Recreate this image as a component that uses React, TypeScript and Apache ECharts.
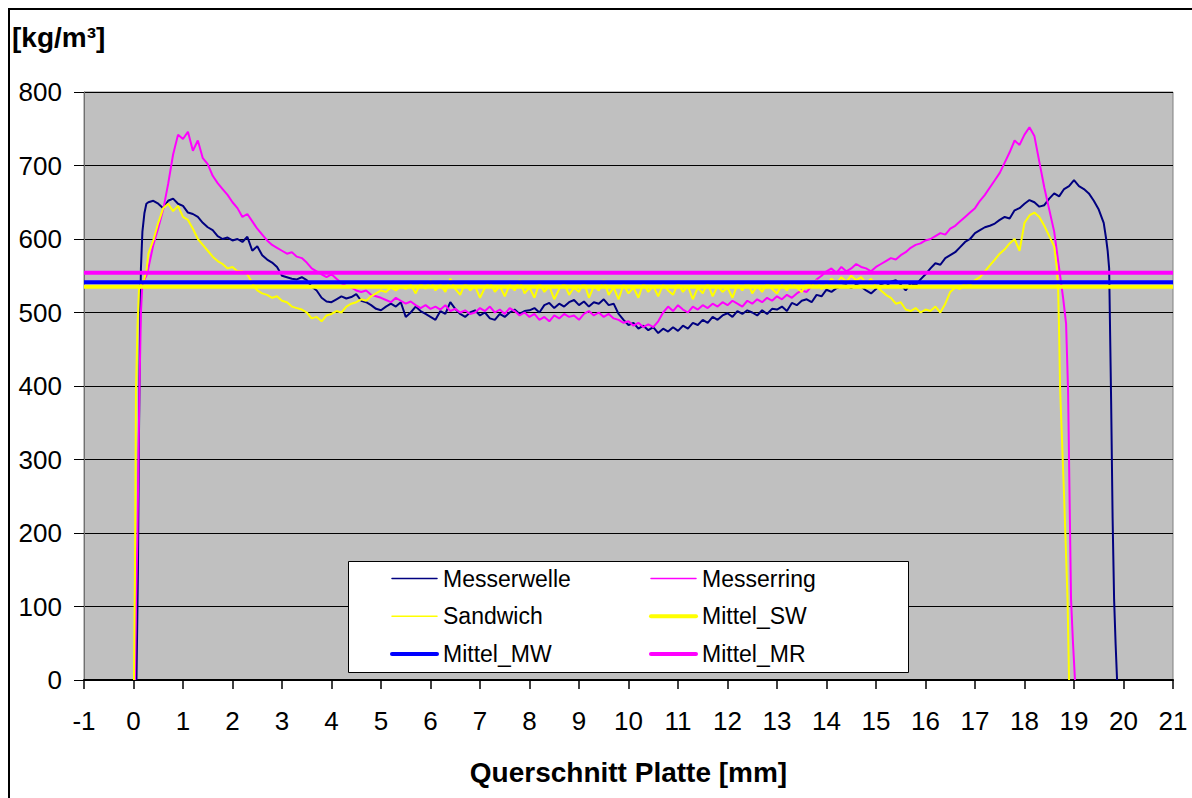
import { useEffect, useRef } from "react";
import * as echarts from "echarts";

// Density profiles across the board thickness [x in mm, density in kg/m³]
const messerwelle: [number, number][] = [
  [0.06, 0], [0.09, 150], [0.11, 330], [0.13, 470], [0.15, 560], [0.18, 610], [0.22, 635], [0.26, 648],
  [0.3, 650], [0.4, 652], [0.5, 648], [0.6, 642], [0.7, 652], [0.8, 655], [0.9, 648], [1.0, 645],
  [1.1, 636], [1.2, 634], [1.3, 630], [1.4, 622], [1.5, 616], [1.6, 612], [1.7, 604], [1.8, 600],
  [1.9, 602], [2.0, 598], [2.1, 600], [2.2, 596], [2.3, 603], [2.4, 584], [2.5, 590], [2.6, 578],
  [2.7, 572], [2.8, 568], [2.9, 562], [3.0, 550], [3.1, 548], [3.2, 546], [3.3, 545], [3.4, 548],
  [3.5, 544], [3.6, 535], [3.7, 530], [3.8, 520], [3.9, 515], [4.0, 514], [4.1, 518], [4.2, 522],
  [4.3, 519], [4.4, 521], [4.5, 525], [4.6, 516], [4.7, 514], [4.8, 510], [4.9, 505], [5.0, 503],
  [5.1, 508], [5.2, 512], [5.3, 508], [5.4, 514], [5.5, 494], [5.6, 500], [5.7, 508], [5.8, 502],
  [5.9, 498], [6.0, 494], [6.1, 490], [6.2, 502], [6.3, 498], [6.4, 514], [6.5, 505], [6.6, 498],
  [6.7, 494], [6.8, 500], [6.9, 503], [7.0, 496], [7.1, 500], [7.2, 492], [7.3, 490], [7.4, 498],
  [7.5, 494], [7.6, 500], [7.7, 504], [7.8, 498], [7.9, 502], [8.0, 503], [8.1, 506], [8.2, 500],
  [8.3, 510], [8.4, 513], [8.5, 506], [8.6, 512], [8.7, 508], [8.8, 514], [8.9, 517], [9.0, 510],
  [9.1, 515], [9.2, 508], [9.3, 514], [9.4, 512], [9.5, 518], [9.6, 510], [9.7, 512], [9.8, 498],
  [9.9, 490], [10.0, 483], [10.1, 486], [10.2, 478], [10.3, 482], [10.4, 476], [10.5, 480], [10.6, 472],
  [10.7, 478], [10.8, 474], [10.9, 480], [11.0, 475], [11.1, 482], [11.2, 478], [11.3, 486], [11.4, 483],
  [11.5, 490], [11.6, 486], [11.7, 494], [11.8, 490], [11.9, 496], [12.0, 499], [12.1, 494], [12.2, 502],
  [12.3, 498], [12.4, 503], [12.5, 500], [12.6, 496], [12.7, 503], [12.8, 498], [12.9, 505], [13.0, 504],
  [13.1, 508], [13.2, 502], [13.3, 513], [13.4, 510], [13.5, 516], [13.6, 518], [13.7, 514], [13.8, 524],
  [13.9, 522], [14.0, 531], [14.1, 528], [14.2, 533], [14.3, 536], [14.4, 537], [14.5, 533], [14.6, 538],
  [14.7, 535], [14.8, 530], [14.9, 526], [15.0, 532], [15.1, 538], [15.2, 535], [15.3, 542], [15.4, 544],
  [15.5, 538], [15.6, 530], [15.7, 540], [15.8, 537], [15.9, 545], [16.0, 552], [16.1, 560], [16.2, 567],
  [16.3, 565], [16.4, 574], [16.5, 578], [16.6, 582], [16.7, 589], [16.8, 596], [16.9, 600], [17.0, 608],
  [17.1, 612], [17.2, 616], [17.3, 618], [17.4, 621], [17.5, 626], [17.6, 630], [17.7, 628], [17.8, 639],
  [17.9, 642], [18.0, 648], [18.1, 653], [18.2, 650], [18.3, 644], [18.4, 646], [18.5, 655], [18.6, 662],
  [18.7, 658], [18.8, 668], [18.9, 672], [19.0, 680], [19.1, 672], [19.2, 668], [19.3, 662], [19.4, 652],
  [19.5, 640], [19.6, 622], [19.65, 600], [19.68, 584], [19.71, 560], [19.73, 470], [19.75, 380],
  [19.78, 220], [19.81, 110], [19.84, 50], [19.87, 0],
];

const messerring: [number, number][] = [
  [0.03, 0], [0.05, 100], [0.08, 200], [0.1, 300], [0.12, 395], [0.15, 500], [0.18, 540], [0.22, 545],
  [0.26, 550], [0.3, 560], [0.4, 592], [0.5, 615], [0.6, 640], [0.7, 675], [0.8, 715], [0.9, 742],
  [1.0, 736], [1.1, 746], [1.2, 720], [1.3, 734], [1.4, 710], [1.5, 702], [1.6, 686], [1.7, 676],
  [1.8, 668], [1.9, 660], [2.0, 650], [2.1, 642], [2.2, 630], [2.3, 634], [2.4, 624], [2.5, 614],
  [2.6, 606], [2.7, 598], [2.8, 592], [2.9, 588], [3.0, 584], [3.1, 580], [3.2, 582], [3.3, 576],
  [3.4, 574], [3.5, 568], [3.6, 560], [3.7, 556], [3.8, 552], [3.9, 548], [4.0, 552], [4.1, 546],
  [4.2, 540], [4.3, 536], [4.4, 534], [4.5, 530], [4.6, 528], [4.7, 530], [4.8, 524], [4.9, 522],
  [5.0, 520], [5.1, 517], [5.2, 514], [5.3, 520], [5.4, 516], [5.5, 512], [5.6, 515], [5.7, 510],
  [5.8, 506], [5.9, 510], [6.0, 505], [6.1, 508], [6.2, 504], [6.3, 510], [6.4, 502], [6.5, 505],
  [6.6, 500], [6.7, 503], [6.8, 498], [6.9, 500], [7.0, 506], [7.1, 502], [7.2, 508], [7.3, 500],
  [7.4, 504], [7.5, 498], [7.6, 506], [7.7, 502], [7.8, 496], [7.9, 500], [8.0, 494], [8.1, 498],
  [8.2, 490], [8.3, 494], [8.4, 488], [8.5, 496], [8.6, 492], [8.7, 498], [8.8, 494], [8.9, 496],
  [9.0, 490], [9.1, 498], [9.2, 502], [9.3, 496], [9.4, 500], [9.5, 494], [9.6, 498], [9.7, 492],
  [9.8, 490], [9.9, 486], [10.0, 488], [10.1, 482], [10.2, 486], [10.3, 480], [10.4, 484], [10.5, 480],
  [10.6, 488], [10.7, 500], [10.8, 508], [10.9, 502], [11.0, 510], [11.1, 504], [11.2, 500], [11.3, 508],
  [11.4, 504], [11.5, 510], [11.6, 506], [11.7, 512], [11.8, 508], [11.9, 514], [12.0, 510], [12.1, 516],
  [12.2, 512], [12.3, 508], [12.4, 516], [12.5, 512], [12.6, 518], [12.7, 514], [12.8, 520], [12.9, 516],
  [13.0, 522], [13.1, 518], [13.2, 524], [13.3, 520], [13.4, 526], [13.5, 530], [13.6, 528], [13.7, 536],
  [13.8, 545], [13.9, 550], [14.0, 556], [14.1, 560], [14.2, 554], [14.3, 562], [14.4, 556], [14.5, 560],
  [14.6, 566], [14.7, 562], [14.8, 560], [14.9, 556], [15.0, 562], [15.1, 566], [15.2, 570], [15.3, 574],
  [15.4, 572], [15.5, 578], [15.6, 582], [15.7, 588], [15.8, 592], [15.9, 594], [16.0, 598], [16.1, 600],
  [16.2, 604], [16.3, 608], [16.4, 606], [16.5, 614], [16.6, 618], [16.7, 624], [16.8, 630], [16.9, 636],
  [17.0, 642], [17.1, 652], [17.2, 660], [17.3, 670], [17.4, 680], [17.5, 690], [17.6, 704], [17.7, 718],
  [17.8, 734], [17.9, 728], [18.0, 742], [18.1, 752], [18.2, 740], [18.3, 705], [18.4, 670], [18.5, 640],
  [18.6, 610], [18.7, 560], [18.78, 520], [18.84, 485], [18.88, 395], [18.91, 250], [18.94, 110],
  [18.98, 50], [19.02, 0],
];

const sandwich: [number, number][] = [
  [0.01, 0], [0.03, 150], [0.05, 395], [0.08, 480], [0.11, 531], [0.16, 540], [0.21, 544], [0.26, 556],
  [0.3, 580], [0.4, 598], [0.5, 622], [0.6, 642], [0.7, 648], [0.8, 638], [0.9, 645], [1.0, 630],
  [1.1, 626], [1.2, 614], [1.3, 600], [1.4, 592], [1.5, 584], [1.6, 576], [1.7, 570], [1.8, 566],
  [1.9, 560], [2.0, 562], [2.1, 556], [2.2, 556], [2.3, 552], [2.4, 540], [2.5, 530], [2.6, 526],
  [2.7, 524], [2.8, 520], [2.9, 522], [3.0, 516], [3.1, 514], [3.2, 508], [3.3, 506], [3.4, 504],
  [3.5, 500], [3.6, 492], [3.7, 494], [3.8, 488], [3.9, 496], [4.0, 498], [4.1, 502], [4.2, 500],
  [4.3, 508], [4.4, 512], [4.5, 514], [4.6, 518], [4.7, 516], [4.8, 522], [4.9, 526], [5.0, 530],
  [5.1, 528], [5.2, 534], [5.3, 530], [5.4, 536], [5.5, 532], [5.6, 538], [5.7, 526], [5.8, 540],
  [5.9, 532], [6.0, 544], [6.1, 530], [6.2, 538], [6.3, 528], [6.4, 546], [6.5, 532], [6.6, 524],
  [6.7, 540], [6.8, 530], [6.9, 536], [7.0, 520], [7.1, 534], [7.2, 542], [7.3, 528], [7.4, 536],
  [7.5, 522], [7.6, 538], [7.7, 530], [7.8, 544], [7.9, 526], [8.0, 534], [8.1, 520], [8.2, 540],
  [8.3, 528], [8.4, 536], [8.5, 518], [8.6, 532], [8.7, 540], [8.8, 524], [8.9, 534], [9.0, 528],
  [9.1, 542], [9.2, 520], [9.3, 536], [9.4, 530], [9.5, 544], [9.6, 524], [9.7, 534], [9.8, 518],
  [9.9, 538], [10.0, 526], [10.1, 534], [10.2, 520], [10.3, 540], [10.4, 528], [10.5, 536], [10.6, 522],
  [10.7, 538], [10.8, 530], [10.9, 524], [11.0, 540], [11.1, 528], [11.2, 536], [11.3, 518], [11.4, 534],
  [11.5, 526], [11.6, 540], [11.7, 522], [11.8, 536], [11.9, 528], [12.0, 534], [12.1, 520], [12.2, 538],
  [12.3, 530], [12.4, 542], [12.5, 526], [12.6, 536], [12.7, 528], [12.8, 540], [12.9, 532], [13.0, 526],
  [13.1, 538], [13.2, 530], [13.3, 542], [13.4, 534], [13.5, 528], [13.6, 540], [13.7, 536], [13.8, 544],
  [13.9, 532], [14.0, 538], [14.1, 546], [14.2, 540], [14.3, 548], [14.4, 542], [14.5, 550], [14.6, 544],
  [14.7, 548], [14.8, 540], [14.9, 546], [15.0, 536], [15.1, 530], [15.2, 524], [15.3, 520], [15.4, 512],
  [15.5, 514], [15.6, 504], [15.7, 502], [15.8, 506], [15.9, 500], [16.0, 504], [16.1, 502], [16.2, 508],
  [16.3, 500], [16.4, 512], [16.5, 528], [16.6, 534], [16.7, 532], [16.8, 540], [16.9, 538], [17.0, 544],
  [17.1, 548], [17.2, 556], [17.3, 564], [17.4, 572], [17.5, 580], [17.6, 586], [17.7, 594], [17.8, 600],
  [17.9, 584], [18.0, 622], [18.1, 632], [18.2, 636], [18.3, 630], [18.4, 618], [18.5, 604], [18.6, 590],
  [18.65, 562], [18.68, 531], [18.7, 470], [18.72, 395], [18.8, 250], [18.87, 109], [18.9, 0],
];

// Mean densities
const mittelSW = 535;
const mittelMW = 541;
const mittelMR = 554;

const xMin = -1;
const xMax = 21;
const yMax = 800;

const FONT = "'Liberation Sans', Arial, sans-serif";

const meanLine = (v: number): [number, number][] => [
  [xMin, v],
  [xMax, v],
];

const thin = (name: string, color: string, data: [number, number][]) => ({
  name,
  type: "line",
  data,
  symbol: "none",
  lineStyle: { color, width: 2 },
  itemStyle: { color },
});

const thick = (name: string, color: string, v: number) => ({
  name,
  type: "line",
  data: meanLine(v),
  symbol: "none",
  lineStyle: { color, width: 4 },
  itemStyle: { color },
});

const legendBase = {
  orient: "vertical",
  top: 567,
  padding: 0,
  itemWidth: 45,
  itemHeight: 14,
  itemGap: 14.7,
  textStyle: { fontFamily: FONT, fontSize: 23, color: "#000", lineHeight: 22, padding: [0, 0, 0, 1] },
  selectedMode: false,
};

const legendItem = (name: string, width: number) => ({
  name,
  itemStyle: { opacity: 0 },
  lineStyle: { width, cap: "round" },
});

const option = {
  animation: false,
  backgroundColor: "#fff",
  grid: {
    left: 84,
    right: 19,
    top: 92,
    bottom: 118,
    show: true,
    backgroundColor: "#c0c0c0",
    borderColor: "#808080",
    borderWidth: 1,
  },
  xAxis: {
    type: "value",
    min: xMin,
    max: xMax,
    interval: 1,
    axisLine: { show: true, onZero: false, lineStyle: { color: "#000", width: 2 } },
    axisTick: { show: true, length: 9, lineStyle: { color: "#000", width: 1.5 } },
    axisLabel: { fontFamily: FONT, fontSize: 26, color: "#000", margin: 28 },
    splitLine: { show: false },
    name: "Querschnitt Platte [mm]",
    nameLocation: "middle",
    nameGap: 78,
    nameTextStyle: { fontFamily: FONT, fontSize: 28, fontWeight: "bold", color: "#000" },
  },
  yAxis: {
    type: "value",
    min: 0,
    max: yMax,
    interval: 100,
    axisLine: { show: true, onZero: false, lineStyle: { color: "#707070", width: 1 } },
    axisTick: { show: true, length: 10, lineStyle: { color: "#000", width: 1 } },
    axisLabel: { fontFamily: FONT, fontSize: 26, color: "#000", margin: 22 },
    splitLine: { show: true, lineStyle: { color: "#000", width: 1 } },
  },
  legend: [
    {
      ...legendBase,
      left: 390,
      data: [legendItem("Messerwelle", 1.5), legendItem("Sandwich", 1.5), legendItem("Mittel_MW", 4)],
    },
    {
      ...legendBase,
      left: 649,
      data: [legendItem("Messerring", 1.5), legendItem("Mittel_SW", 4), legendItem("Mittel_MR", 4)],
    },
  ],
  graphic: [
    {
      type: "rect",
      silent: true,
      z: 3,
      shape: { x: 348.5, y: 561.5, width: 560, height: 111 },
      style: { fill: "#fff", stroke: "#000", lineWidth: 1 },
    },
    {
      type: "rect",
      silent: true,
      z: 10,
      shape: { x: 9, y: 9, width: 1200, height: 800 },
      style: { fill: "none", stroke: "#000", lineWidth: 2 },
    },
    {
      type: "text",
      silent: true,
      left: 12,
      top: 23,
      style: { text: "[kg/m³]", font: `bold 28px ${FONT}`, fill: "#000" },
    },
  ],
  series: [
    thin("Messerwelle", "#000080", messerwelle),
    thin("Messerring", "#ff00ff", messerring),
    thin("Sandwich", "#ffff00", sandwich),
    thick("Mittel_SW", "#ffff00", mittelSW),
    thick("Mittel_MW", "#0000ff", mittelMW),
    thick("Mittel_MR", "#ff00ff", mittelMR),
  ],
};

export default function App() {
  const ref = useRef<HTMLDivElement>(null);
  useEffect(() => {
    const chart = echarts.init(ref.current!, undefined, { renderer: "svg" });
    chart.setOption(option as any);
    return () => chart.dispose();
  }, []);
  return (
    <div
      ref={ref}
      style={{ position: "fixed", left: 0, top: 0, width: 1192, height: 798, background: "#fff" }}
    />
  );
}
